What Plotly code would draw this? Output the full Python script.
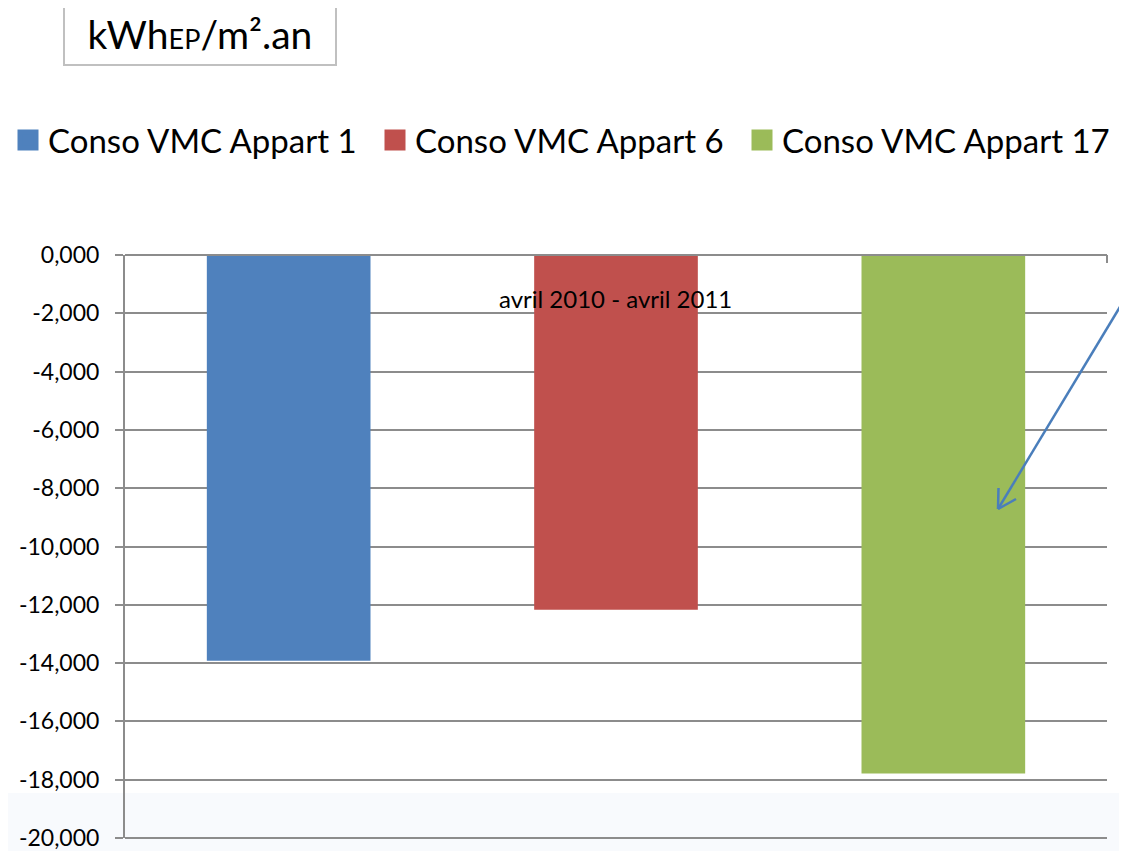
import plotly.graph_objects as go

categories = ["Appart 1", "Appart 6", "Appart 17"]
series_names = ["Conso VMC Appart 1", "Conso VMC Appart 6", "Conso VMC Appart 17"]
values = [-13.92, -12.17, -17.79]
colors = ["#4f81bd", "#c0504d", "#9bbb59"]
tick_values = [0, -2, -4, -6, -8, -10, -12, -14, -16, -18, -20]
tick_labels = ["0,000", "-2,000", "-4,000", "-6,000", "-8,000", "-10,000",
               "-12,000", "-14,000", "-16,000", "-18,000", "-20,000"]
period_label = "avril 2010 - avril 2011"
unit_label = "kWh<span style='font-size:27px'>EP</span>/m².an"

# the page body has an 8px margin: figure is placed at screen (8, 8)
OFF = 8
W, H = 1127 - OFF, 851 - OFF
L, R, T, B = 125, 1107, 255, 838  # plot area in screen pixels


def px(x):
    return (x - L) / (R - L)


def py(y):
    return (B - y) / (B - T)


fig = go.Figure()
for name, cat, v, c in zip(series_names, categories, values, colors):
    fig.add_trace(go.Bar(
        x=[cat], y=[v], name=name, marker=dict(color=c, line=dict(width=0)),
        width=0.5, offset=-0.25, showlegend=False,
    ))
# legend entries with larger square symbols
for name, c in zip(series_names, colors):
    fig.add_trace(go.Scatter(
        x=[None], y=[None], mode="markers", name=name,
        marker=dict(symbol="square", size=16, color=c, line=dict(color=c, width=5)),
    ))

font_family = "Lato, 'Open Sans', sans-serif"
grid_col = "#8c8c8c"

fig.update_layout(
    width=W, height=H,
    margin=dict(l=L - OFF, r=W - (R - OFF), t=T - OFF, b=H - (B - OFF), pad=0,
                autoexpand=False),
    paper_bgcolor="white", plot_bgcolor="rgba(0,0,0,0)",
    separators=", ",
    barmode="overlay",
    showlegend=True,
    font=dict(family=font_family, color="black"),
    legend=dict(
        orientation="h", x=px(8), xanchor="left", y=py(140), yanchor="middle",
        font=dict(size=33, family=font_family, color="black"),
        itemwidth=30, entrywidth=322, entrywidthmode="pixels",
        traceorder="normal", bgcolor="rgba(0,0,0,0)",
    ),
    xaxis=dict(
        type="category", categoryorder="array", categoryarray=categories,
        range=[-0.5, 2.5], showticklabels=False, showgrid=False,
        zeroline=False, showline=False, ticks="",
    ),
    yaxis=dict(
        range=[-20, 0], tickvals=tick_values, ticktext=tick_labels,
        showgrid=True, gridcolor=grid_col, gridwidth=1.5,
        zeroline=False, showline=True, linecolor=grid_col, linewidth=2,
        ticks="outside", ticklen=8, tickcolor=grid_col, tickwidth=1.5,
        tickfont=dict(size=23, family=font_family, color="black"),
        ticklabelstandoff=11, ticklabeloverflow="allow",
    ),
    shapes=[
        # faint background swoosh at the bottom
        dict(type="rect", xref="paper", yref="paper", x0=px(0), x1=px(1127),
             y0=py(793), y1=py(851), fillcolor="#f8fafd",
             line=dict(width=0), layer="below"),
        # top and bottom border lines and small right tick
        dict(type="line", xref="paper", yref="paper", x0=0, x1=1, y0=1, y1=1,
             line=dict(color=grid_col, width=2)),
        dict(type="line", xref="paper", yref="paper", x0=0, x1=1, y0=0, y1=0,
             line=dict(color=grid_col, width=2)),
        dict(type="line", xref="paper", yref="paper", x0=1, x1=1, y0=1, y1=py(263),
             line=dict(color=grid_col, width=2)),
        # arrow line with open head
        dict(type="line", xref="paper", yref="paper", x0=px(1132), y0=py(287),
             x1=px(998), y1=py(509), line=dict(color="#4a7ebb", width=2.5)),
        dict(type="line", xref="paper", yref="paper", x0=px(998), y0=py(509),
             x1=px(1016), y1=py(499), line=dict(color="#4a7ebb", width=2.5)),
        dict(type="line", xref="paper", yref="paper", x0=px(998), y0=py(509),
             x1=px(998.5), y1=py(488), line=dict(color="#4a7ebb", width=2.5)),
    ],
    annotations=[
        dict(text=period_label, xref="paper", yref="paper", x=px(615), y=py(298),
             xanchor="center", yanchor="middle", showarrow=False,
             font=dict(size=24, family=font_family, color="black")),
        dict(text=unit_label, xref="paper", yref="paper", x=px(63), y=py(2),
             xanchor="left", yanchor="top", showarrow=False,
             width=270, height=60, borderpad=0, bordercolor="#c0c0c0", borderwidth=2,
             bgcolor="white", align="center", valign="middle",
             font=dict(size=39, family=font_family, color="black")),
    ],
)

fig.write_html("out.html")
